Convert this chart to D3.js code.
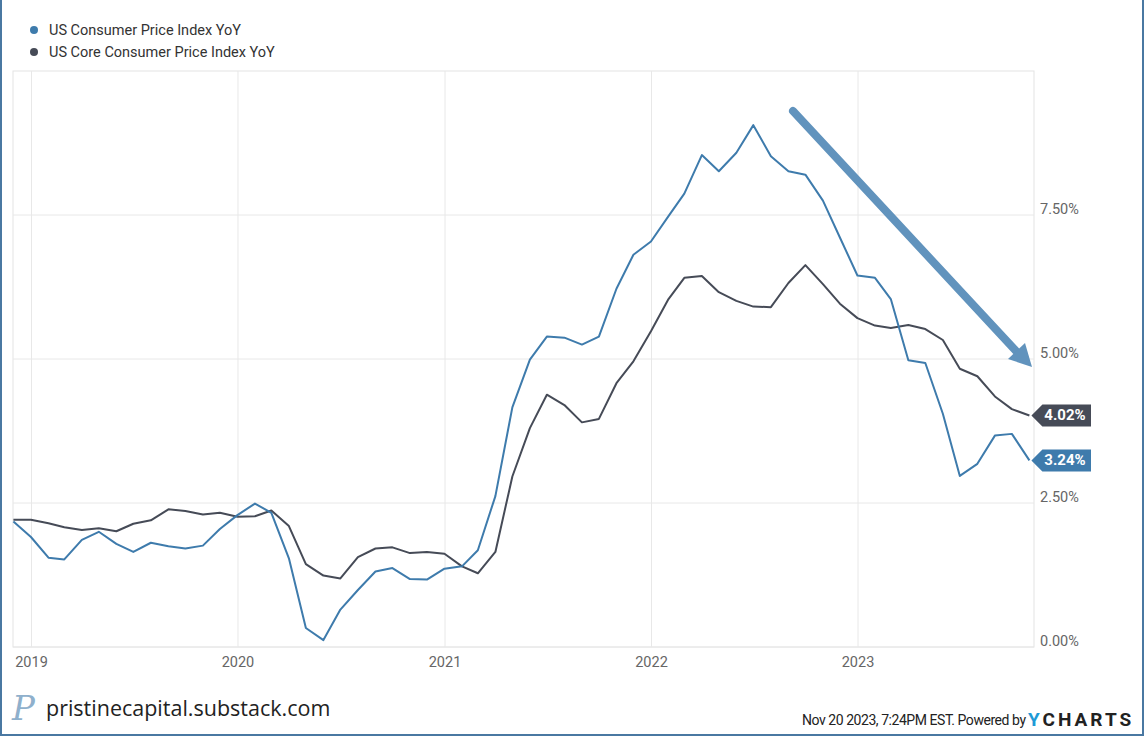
<!DOCTYPE html>
<html>
<head>
<meta charset="utf-8">
<script src="https://cdn.jsdelivr.net/npm/d3@7"></script>
<style>
  body { margin: 0; background: #fff; }
  svg { display: block; font-family: Roboto, "Noto Sans", sans-serif; }
</style>
</head>
<body>
<svg id="viz" width="1144" height="736"></svg>
<script>
// monthly YoY readings, Nov 2018 .. Oct 2023
const startYear = 2018
const startMonth = 10 // November (0-based)
const cpi = [
  2.18, 1.91,
  1.55, 1.52, 1.86, 2.0, 1.79, 1.65, 1.81, 1.75, 1.71, 1.76, 2.05, 2.29,
  2.49, 2.33, 1.54, 0.33, 0.12, 0.65, 0.99, 1.31, 1.37, 1.18, 1.17, 1.36,
  1.4, 1.68, 2.62, 4.16, 4.99, 5.39, 5.37, 5.25, 5.39, 6.22, 6.81, 7.04,
  7.48, 7.87, 8.54, 8.26, 8.58, 9.06, 8.52, 8.26, 8.2, 7.75, 7.11, 6.45,
  6.41, 6.04, 4.98, 4.93, 4.05, 2.97, 3.18, 3.67, 3.7, 3.24,
]
const core = [
  2.21, 2.21,
  2.15, 2.08, 2.03, 2.06, 2.01, 2.14, 2.2, 2.39, 2.36, 2.3, 2.33, 2.26,
  2.27, 2.37, 2.1, 1.44, 1.24, 1.19, 1.56, 1.71, 1.73, 1.63, 1.65, 1.62,
  1.4, 1.28, 1.65, 2.96, 3.8, 4.38, 4.2, 3.9, 3.96, 4.58, 4.96, 5.48,
  6.04, 6.41, 6.44, 6.16, 6.01, 5.91, 5.9, 6.32, 6.63, 6.3, 5.96, 5.71,
  5.58, 5.54, 5.59, 5.52, 5.33, 4.83, 4.7, 4.35, 4.13, 4.02,
]
const seriesNames = ["US Consumer Price Index YoY", "US Core Consumer Price Index YoY"]
const yTicks = [0, 2.5, 5, 7.5]
const xTickYears = [2019, 2020, 2021, 2022, 2023]

const blue = "#3e7bac"
const dark = "#464b57"
const grid = "#e8e8e8"

const svg = d3.select("#viz")

// plot box
const plotLeft = 13, plotRight = 1034, plotTop = 71, plotBottom = 647

// month-end dates
const dates = cpi.map((_, i) => new Date(startYear, startMonth + i + 1, 0))

const x = d3.scaleTime()
  .domain([new Date(2019, 0, 1), new Date(2023, 0, 1)])
  .range([31.5, 858])
const y = d3.scaleLinear().domain([0, 7.5]).range([plotBottom, 215])

// frame
svg.append("rect")
  .attr("x", plotLeft).attr("y", plotTop)
  .attr("width", plotRight - plotLeft).attr("height", plotBottom - plotTop)
  .attr("fill", "none").attr("stroke", "#e3e3e3")

// horizontal grid + right labels
svg.append("g")
  .selectAll("line")
  .data(yTicks)
  .join("line")
  .attr("x1", plotLeft).attr("x2", plotRight)
  .attr("y1", (d) => y(d)).attr("y2", (d) => y(d))
  .attr("stroke", grid)

svg.append("g")
  .selectAll("text")
  .data(yTicks)
  .join("text")
  .attr("x", 1040)
  .attr("y", (d) => y(d) - 1)
  .attr("font-size", 14.5)
  .attr("fill", "#666")
  .text((d) => d.toFixed(2) + "%")

// vertical grid + year labels
const years = xTickYears.map((yr) => new Date(yr, 0, 1))
svg.append("g")
  .selectAll("line")
  .data(years)
  .join("line")
  .attr("x1", (d) => x(d)).attr("x2", (d) => x(d))
  .attr("y1", plotTop).attr("y2", plotBottom)
  .attr("stroke", grid)

svg.append("g")
  .selectAll("text")
  .data(years)
  .join("text")
  .attr("x", (d) => x(d))
  .attr("y", 667)
  .attr("text-anchor", "middle")
  .attr("font-size", 14.5)
  .attr("fill", "#666")
  .text((d) => d.getFullYear())

// lines
const line = d3.line()
  .x((d, i) => x(dates[i]))
  .y((d) => y(d))

svg.append("path")
  .datum(core)
  .attr("d", line)
  .attr("fill", "none")
  .attr("stroke", dark)
  .attr("stroke-width", 2)
  .attr("stroke-linejoin", "round")

svg.append("path")
  .datum(cpi)
  .attr("d", line)
  .attr("fill", "none")
  .attr("stroke", blue)
  .attr("stroke-width", 2)
  .attr("stroke-linejoin", "round")

// end value flags
const flags = [
  { v: core[core.length - 1], color: dark },
  { v: cpi[cpi.length - 1], color: blue },
]
const lastX = x(dates[dates.length - 1])
flags.forEach((f) => {
  const cy = y(f.v)
  const x0 = lastX + 2
  svg.append("path")
    .attr("d", `M${x0},${cy} L${x0 + 11},${cy - 11} L1091,${cy - 11} L1091,${cy + 11} L${x0 + 11},${cy + 11} Z`)
    .attr("fill", f.color)
  svg.append("text")
    .attr("x", 1065)
    .attr("y", cy + 5)
    .attr("text-anchor", "middle")
    .attr("font-size", 15)
    .attr("font-weight", "bold")
    .attr("fill", "#fff")
    .text(f.v.toFixed(2) + "%")
})

// annotation arrow
const arrowColor = "#6193bd"
svg.append("line")
  .attr("x1", 793).attr("y1", 111)
  .attr("x2", 1016).attr("y2", 351)
  .attr("stroke", arrowColor)
  .attr("stroke-width", 8)
  .attr("stroke-linecap", "round")
svg.append("path")
  .attr("d", "M1032,367 L1008,359 L1025,343 Z")
  .attr("fill", arrowColor)

// legend
const legend = svg.append("g")
seriesNames.forEach((name, i) => {
  const ly = 30 + i * 22
  legend.append("circle")
    .attr("cx", 34).attr("cy", ly).attr("r", 4)
    .attr("fill", i === 0 ? blue : dark)
  legend.append("text")
    .attr("x", 49).attr("y", ly + 5)
    .attr("font-size", 14.5)
    .attr("fill", "#333")
    .text(name)
})

// footer
svg.append("text")
  .attr("x", 12).attr("y", 720)
  .attr("font-family", "'DejaVu Serif', serif")
  .attr("font-style", "italic")
  .attr("font-size", 34)
  .attr("fill", "#8fb0cc")
  .text("P")
svg.append("text")
  .attr("x", 46).attr("y", 716)
  .attr("font-family", "'Open Sans', sans-serif")
  .attr("font-size", 21.5)
  .attr("fill", "#222")
  .text("pristinecapital.substack.com")

svg.append("text")
  .attr("x", 1026).attr("y", 725)
  .attr("text-anchor", "end")
  .attr("font-size", 14)
  .attr("textLength", 224)
  .attr("fill", "#222")
  .text("Nov 20 2023, 7:24PM EST. Powered by")
const brand = svg.append("text")
  .attr("x", 1028).attr("y", 726)
  .attr("font-size", 19)
  .attr("font-weight", "bold")
  .attr("letter-spacing", 3)
brand.append("tspan").attr("fill", "#1f9ad6").text("Y")
brand.append("tspan").attr("fill", "#222").text("CHARTS")

// outer border
svg.append("path")
  .attr("d", "M1,0 V735 H1143 V0")
  .attr("fill", "none")
  .attr("stroke", "#4a78a2")
  .attr("stroke-width", 2)
</script>
</body>
</html>
